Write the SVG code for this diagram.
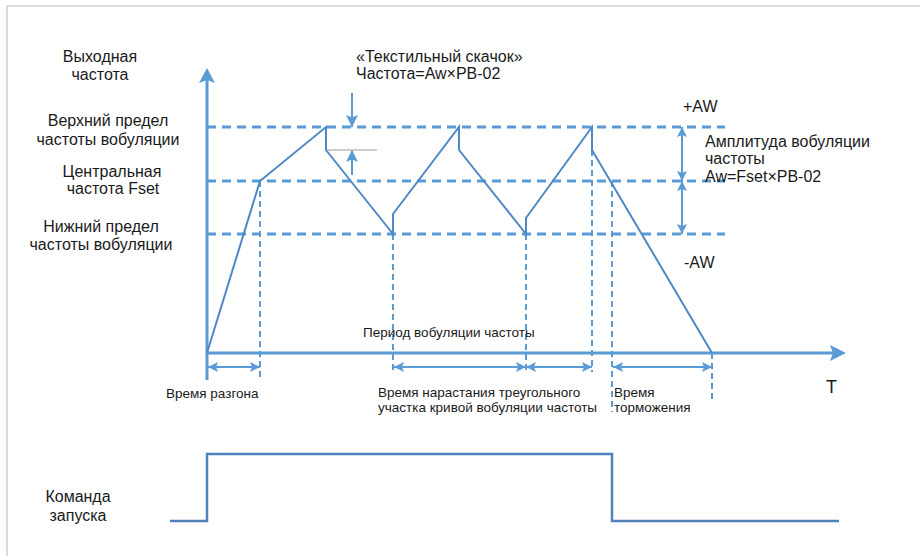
<svg xmlns="http://www.w3.org/2000/svg" width="920" height="556" viewBox="0 0 920 556">
<defs>
<style>
.t{font-family:"Liberation Sans",Arial,sans-serif;font-size:16px;fill:#1a1a1a}
.s{font-family:"Liberation Sans",Arial,sans-serif;font-size:13.5px;fill:#1a1a1a}
.m{text-anchor:middle}
.hd{stroke:#5b9bd5;stroke-width:3;stroke-dasharray:9 6;fill:none}
.vd{stroke:#5b9bd5;stroke-width:2;stroke-dasharray:6 4;fill:none}
.wave{stroke:#4f88c6;stroke-width:2;fill:none;stroke-linejoin:miter}
.ax{stroke:#5b9bd5;stroke-width:3;fill:none}
.dim{stroke:#5b9bd5;stroke-width:2;fill:none}
.cmd{stroke:#4f81bd;stroke-width:2.5;fill:none}
</style>
<marker id="ah" viewBox="0 0 10 10" refX="10" refY="5" markerWidth="10" markerHeight="10" markerUnits="userSpaceOnUse" orient="auto-start-reverse">
<path d="M0,0 L10,5 L0,10 L2,5 z" fill="#5b9bd5"/>
</marker>
<marker id="ahb" viewBox="0 0 10 10" refX="10" refY="5" markerWidth="12" markerHeight="12" markerUnits="userSpaceOnUse" orient="auto-start-reverse">
<path d="M0,0 L10,5 L0,10 L2,5 z" fill="#5b9bd5"/>
</marker>
</defs>
<rect width="920" height="556" fill="#ffffff"/>
<path d="M7,556 V6 H920" fill="none" stroke="#d0d0d0" stroke-width="1.5"/>

<g id="grid">
<line class="hd" x1="207" y1="127" x2="725" y2="127"/>
<line class="hd" x1="207" y1="181" x2="725" y2="181"/>
<line class="hd" x1="207" y1="234" x2="725" y2="234"/>
<line class="vd" x1="260" y1="181" x2="260" y2="380"/>
<line class="vd" x1="393" y1="234" x2="393" y2="372"/>
<line class="vd" x1="526" y1="234" x2="526" y2="372"/>
<line class="vd" x1="592" y1="150" x2="592" y2="372"/>
<line class="vd" x1="612" y1="181" x2="612" y2="412"/>
<line class="vd" x1="712" y1="353" x2="712" y2="400"/>
</g>

<g id="axes">
<line class="ax" x1="207" y1="380" x2="207" y2="80"/>
<path d="M207,68 L215,83 L207,80 L199,83 z" fill="#5b9bd5"/>
<line class="ax" x1="207" y1="353" x2="834" y2="353"/>
<path d="M846,353 L830,345 L833,353 L830,361 z" fill="#5b9bd5"/>
</g>

<g id="waveform">
<polyline class="wave" points="207,353 260,181 326,127 326,150 393,234 393,214 459,127 459,150 526,234 526,218 592,127 592,150 712,353"/>
</g>

<g id="connectors">
<line class="dim" x1="352" y1="93" x2="352" y2="127" marker-end="url(#ahb)"/>
<line class="dim" x1="352" y1="175" x2="352" y2="150" marker-end="url(#ahb)"/>
<line x1="327" y1="150" x2="377" y2="150" stroke="#bcbcbc" stroke-width="1.5"/>
<line class="dim" x1="682" y1="127" x2="682" y2="181" marker-start="url(#ah)" marker-end="url(#ah)"/>
<line class="dim" x1="682" y1="181" x2="682" y2="234" marker-start="url(#ah)" marker-end="url(#ah)"/>
<line class="dim" x1="208" y1="367" x2="260" y2="367" marker-start="url(#ah)" marker-end="url(#ah)"/>
<line class="dim" x1="394" y1="367" x2="526" y2="367" marker-start="url(#ah)" marker-end="url(#ah)"/>
<line class="dim" x1="526" y1="367" x2="592" y2="367" marker-start="url(#ah)" marker-end="url(#ah)"/>
<line class="dim" x1="613" y1="367" x2="712" y2="367" marker-start="url(#ah)" marker-end="url(#ah)"/>
</g>

<g id="command">
<polyline class="cmd" points="170,521 207,521 207,454 612,454 612,521 839,521"/>
</g>

<g id="labels">
<text class="t m" x="100" y="62">Выходная</text>
<text class="t m" x="100" y="80">частота</text>
<text class="t m" x="108" y="126">Верхний предел</text>
<text class="t m" x="108" y="145">частоты вобуляции</text>
<text class="t m" x="112" y="177">Центральная</text>
<text class="t m" x="113" y="194">частота Fset</text>
<text class="t m" x="101" y="232">Нижний предел</text>
<text class="t m" x="101" y="250">частоты вобуляции</text>
<text class="t" x="356" y="62">«Текстильный скачок»</text>
<text class="t" x="356" y="79">Частота=Aw×PB-02</text>
<text class="t" x="683" y="112">+AW</text>
<text class="t" x="705" y="147">Амплитуда вобуляции</text>
<text class="t" x="705" y="164">частоты</text>
<text class="t" x="705" y="182">Aw=Fset×PB-02</text>
<text class="t" x="684" y="268">-AW</text>
<text class="s" x="363" y="337">Период вобуляции частоты</text>
<text class="s" x="166" y="398">Время разгона</text>
<text class="s" x="378" y="397">Время нарастания треугольного</text>
<text class="s" x="378" y="412">участка кривой вобуляции частоты</text>
<text class="s" x="614" y="397">Время</text>
<text class="s" x="614" y="412">торможения</text>
<text class="t" x="826" y="393" style="font-size:18px">T</text>
<text class="t m" x="78" y="502">Команда</text>
<text class="t m" x="78" y="521">запуска</text>
</g>
</svg>
